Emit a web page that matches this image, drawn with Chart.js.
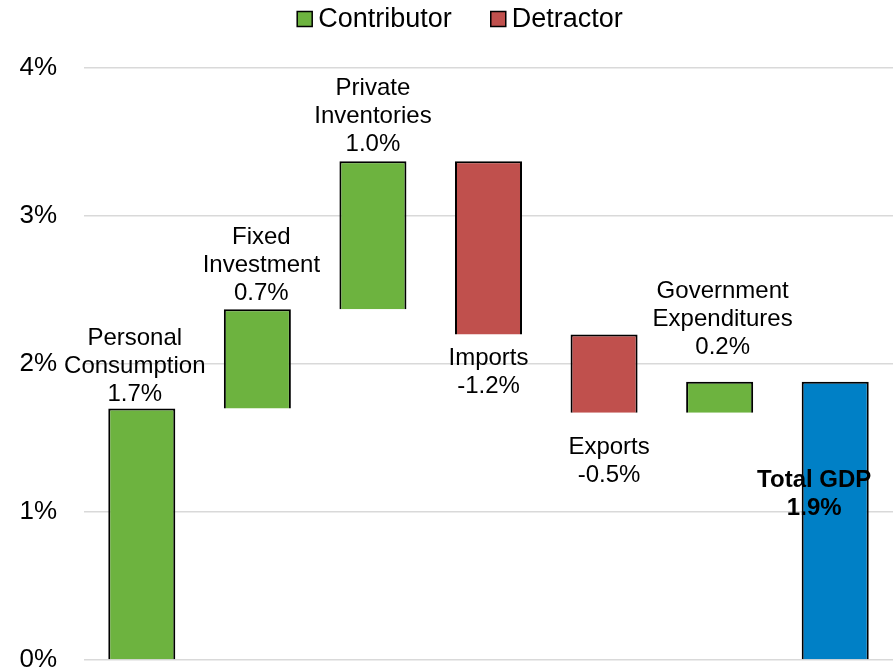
<!DOCTYPE html>
<html>
<head>
<meta charset="utf-8">
<script src="https://cdn.jsdelivr.net/npm/chart.js@4/dist/chart.umd.min.js"></script>
<style>
  html, body { margin: 0; padding: 0; background: #fff; }
  #wrap { width: 896px; height: 672px; }
</style>
</head>
<body>
<div id="wrap"><canvas id="gdpChart" width="896" height="672"></canvas></div>
<script>
// Chart data
const categories = [
    ['Personal', 'Consumption'],
    ['Fixed', 'Investment'],
    ['Private', 'Inventories'],
    ['Imports'],
    ['Exports'],
    ['Government', 'Expenditures'],
    ['Total GDP']
];
// contribution of each component, percentage points
const changes = [1.70, 0.67, 1.00, -1.17, -0.53, 0.21];
const yTicks = [0, 1, 2, 3, 4];
const legendNames = ['Contributor', 'Detractor'];

// label placement for each bar (style only)
const labelPlace = ['above', 'above', 'above', 'below', 'below', 'above', 'inside'];
const labelDy = [-14, -16, -17, 24, 35, -34, 99];
const labelDx = [-7, 4, 0, 0, 5, 3, -21];

const FONT = '"Liberation Sans", Arial, sans-serif';

// build waterfall ranges from the changes
var contributor = [], detractor = [], total = [];
var running = 0;
changes.forEach(function (c, i) {
    var start = running;
    running = running + c;
    contributor.push(c >= 0 ? [start, running] : null);
    detractor.push(c < 0 ? [start, running] : null);
    total.push(null);
});
contributor.push(null);
detractor.push(null);
total.push([0, running]);
const totalValue = running;

function labelValue(i) {
    var v = i < changes.length ? changes[i] : totalValue;
    return v.toFixed(1) + '%';
}

// draws the text next to each bar, and the legend at the top
const barLabels = {
    id: 'barLabels',
    afterDatasetsDraw: function (chart) {
        var ctx = chart.ctx;
        var x = chart.scales.x, y = chart.scales.y;
        var lineH = 28;
        ctx.save();
        ctx.fillStyle = '#000';
        ctx.textAlign = 'center';
        ctx.textBaseline = 'middle';
        categories.forEach(function (name, i) {
            var range = contributor[i] || detractor[i] || total[i];
            var lines = name.concat([labelValue(i)]);
            var cx = x.getPixelForValue(i) + labelDx[i];
            var place = labelPlace[i];
            ctx.font = (place === 'inside' ? 'bold ' : '') + '24px ' + FONT;
            var firstY;
            if (place === 'above') {
                var top = y.getPixelForValue(Math.max(range[0], range[1]));
                firstY = top + labelDy[i] - (lines.length - 1) * lineH;
            } else if (place === 'below') {
                var bottom = y.getPixelForValue(Math.min(range[0], range[1]));
                firstY = bottom + labelDy[i];
            } else {
                var topIn = y.getPixelForValue(Math.max(range[0], range[1]));
                firstY = topIn + labelDy[i];
            }
            lines.forEach(function (t, k) {
                ctx.fillText(t, cx, firstY + k * lineH);
            });
        });

        // legend
        ctx.font = '27px ' + FONT;
        ctx.textAlign = 'left';
        var box = 15, gap = 6, itemGap = 39;
        var widths = legendNames.map(function (t) { return ctx.measureText(t).width; });
        var full = widths.reduce(function (a, w) { return a + box + gap + w; }, 0) + itemGap * (legendNames.length - 1);
        var lx = chart.width / 2 + 12 - full / 2;
        var ly = 19;
        legendNames.forEach(function (t, k) {
            ctx.fillStyle = chart.data.datasets[k].backgroundColor;
            ctx.fillRect(lx, ly - box / 2, box, box);
            ctx.strokeStyle = '#000';
            ctx.lineWidth = 1.5;
            ctx.strokeRect(lx, ly - box / 2, box, box);
            ctx.fillStyle = '#000';
            ctx.fillText(t, lx + box + gap, ly + 1);
            lx += box + gap + widths[k] + itemGap;
        });
        ctx.restore();
    }
};

const ctx1 = document.getElementById('gdpChart').getContext('2d');
const myChart = new Chart(ctx1, {
    type: 'bar',
    data: {
        labels: categories,
        datasets: [{
            label: 'Contributor',
            data: contributor,
            backgroundColor: '#6db33f',
            borderColor: '#000',
            borderWidth: 2
        }, {
            label: 'Detractor',
            data: detractor,
            backgroundColor: '#c0504d',
            borderColor: '#000',
            borderWidth: 2
        }, {
            label: 'Total',
            data: total,
            backgroundColor: '#0080c6',
            borderColor: '#000',
            borderWidth: 2
        }]
    },
    options: {
        responsive: false,
        animation: false,
        grouped: false,
        barPercentage: 0.58,
        categoryPercentage: 1,
        layout: { padding: { top: 68, right: 3, left: 18, bottom: 12 } },
        plugins: {
            tooltip: { enabled: false },
            legend: { display: false }
        },
        scales: {
            x: {
                display: false
            },
            y: {
                min: 0,
                max: 4,
                afterBuildTicks: function (axis) {
                    axis.ticks = yTicks.map(function (v) { return { value: v }; });
                },
                afterFit: function (axis) {
                    axis.width = 66;
                    axis.paddingTop = 0;
                    axis.paddingBottom = 0;
                },
                border: { display: false },
                grid: { color: '#d9d9d9', lineWidth: 1.5, drawTicks: false },
                ticks: {
                    padding: 27,
                    color: '#000',
                    font: { size: 26, family: FONT },
                    callback: function (v) { return v + '%'; }
                }
            }
        }
    },
    plugins: [barLabels]
});
</script>
</body>
</html>
